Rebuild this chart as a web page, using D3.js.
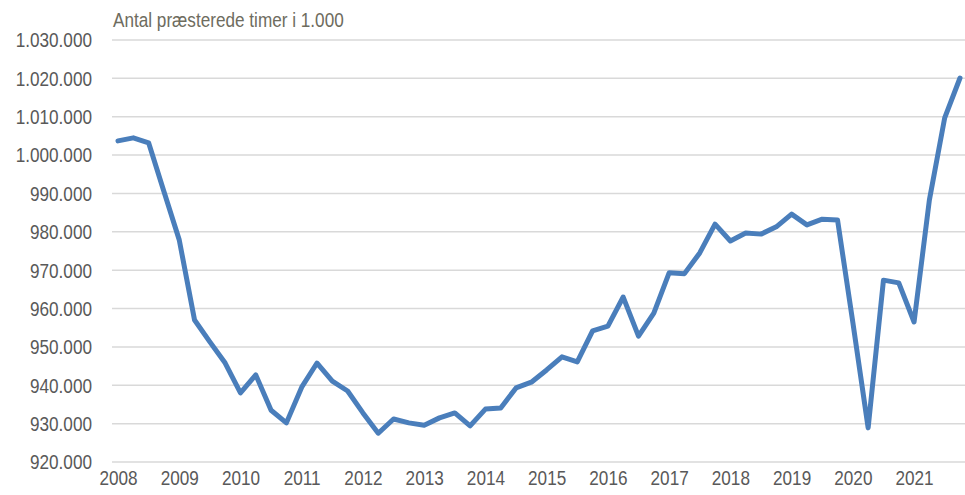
<!DOCTYPE html>
<html>
<head>
<meta charset="utf-8">
<script src="https://cdn.jsdelivr.net/npm/d3@7"></script>
<style>
  body { margin: 0; background: #ffffff; }
  text { font-family: "Liberation Sans", Arial, sans-serif; }
</style>
</head>
<body>
<script>
// quarters 2008K1 .. 2021K4
var years = [2008, 2009, 2010, 2011, 2012, 2013, 2014, 2015, 2016, 2017, 2018, 2019, 2020, 2021];
var quarters = [];
years.forEach(function(y){ for (var q = 1; q <= 4; q++) quarters.push(y + "K" + q); });

// antal præsterede timer i 1.000
var hours = [
  1003700, 1004500, 1003200, 990500,
  977900, 957000, 951300, 945800,
  938000, 942700, 933500, 930200,
  939500, 945800, 941100, 938500,
  932800, 927500, 931200, 930200,
  929600, 931500, 932800, 929400,
  933800, 934100, 939300, 940800,
  944000, 947400, 946100, 954200,
  955400, 963000, 952800, 958800,
  969300, 969100, 974500, 982000,
  977600, 979700, 979400, 981300,
  984600, 981800, 983300, 983100,
  956400, 928900, 967400, 966700,
  956500, 988300, 1009700, 1020100
];
var yTicks = [920000, 930000, 940000, 950000, 960000, 970000, 980000, 990000, 1000000, 1010000, 1020000, 1030000];
var title = "Antal præsterede timer i 1.000";

var width = 965, height = 495;
var svg = d3.select("body").append("svg")
  .attr("width", width)
  .attr("height", height);

var dk = d3.formatLocale({decimal: ",", thousands: ".", grouping: [3], currency: ["", " kr."]});
var fmt = dk.format(",.0f");

var x = d3.scalePoint().domain(quarters).range([118, 960]);
var y = d3.scaleLinear().domain([920000, 1030000]).range([462, 40]);

// gridlines
svg.append("g")
  .selectAll("line")
  .data(yTicks)
  .join("line")
  .attr("x1", 112)
  .attr("x2", 965)
  .attr("y1", function(d){ return y(d); })
  .attr("y2", function(d){ return y(d); })
  .attr("stroke", "#d9d9d9")
  .attr("stroke-width", 1.5);

// y axis
var yAxis = svg.append("g")
  .attr("transform", "translate(92,0)")
  .call(d3.axisLeft(y).tickValues(yTicks).tickFormat(fmt).tickSize(0).tickPadding(0));
yAxis.select(".domain").remove();
yAxis.selectAll("text")
  .attr("fill", "#595959")
  .attr("font-size", "19.5px")
  .attr("dy", "0.35em")
  .attr("transform", "scale(0.88,1)");

// x axis
var xAxis = svg.append("g")
  .attr("transform", "translate(0,471)")
  .call(d3.axisBottom(x)
    .tickValues(quarters.filter(function(d){ return d.slice(-2) === "K1"; }))
    .tickFormat(function(d){ return d.slice(0, 4); })
    .tickSize(0).tickPadding(0));
xAxis.select(".domain").remove();
xAxis.selectAll("text")
  .attr("fill", "#595959")
  .attr("font-size", "19.5px")
  .attr("dy", "0.71em")
  .attr("transform", "scale(0.88,1)");

// title
svg.append("text")
  .attr("x", 113)
  .attr("y", 27)
  .attr("fill", "#6e6c5e")
  .attr("font-size", "19.5px")
  .attr("transform", "translate(113,0) scale(0.88,1) translate(-113,0)")
  .text(title);

// line
var line = d3.line()
  .x(function(d, i){ return x(quarters[i]); })
  .y(function(d){ return y(d); });

svg.append("path")
  .datum(hours)
  .attr("d", line)
  .attr("fill", "none")
  .attr("stroke", "#4a7ebb")
  .attr("stroke-width", 5)
  .attr("stroke-linejoin", "round")
  .attr("stroke-linecap", "round");
</script>
</body>
</html>
